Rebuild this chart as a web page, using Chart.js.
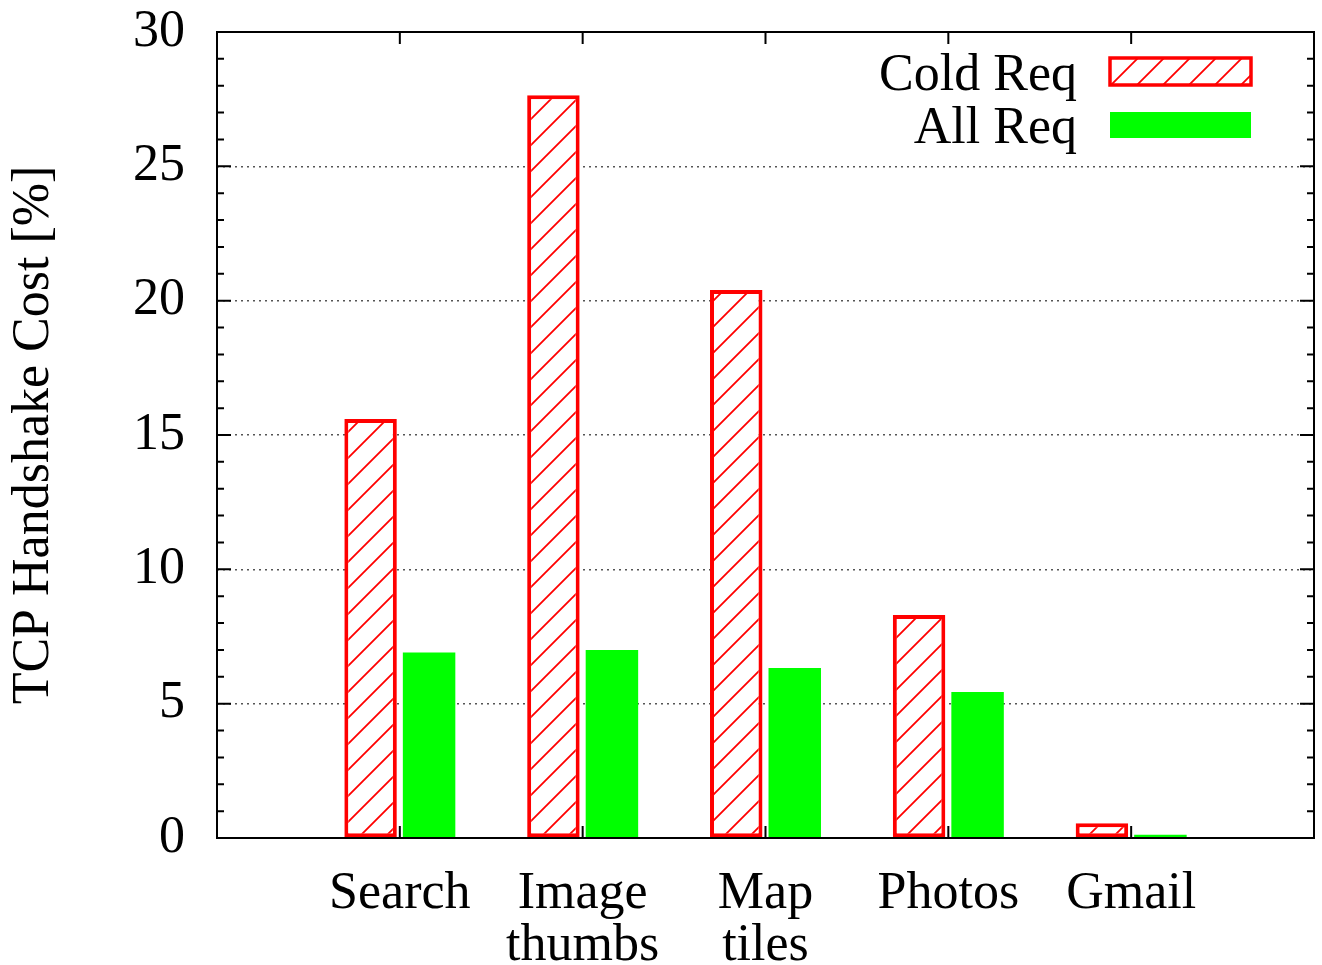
<!DOCTYPE html>
<html>
<head>
<meta charset="utf-8">
<script src="https://cdn.jsdelivr.net/npm/chart.js@4.4.1/dist/chart.umd.min.js"></script>
<style>
  html, body { margin: 0; padding: 0; background: #fff; }
  canvas { display: block; }
</style>
</head>
<body>
<canvas id="chart" width="1322" height="965"></canvas>
<script>
// Data
const categories = ['', 'Search', ['Image', 'thumbs'], ['Map', 'tiles'], 'Photos', 'Gmail', ''];
const coldReq = [null, 15.6, 27.65, 20.4, 8.3, 0.55, null];
const allReq = [null, 6.9, 7.0, 6.33, 5.43, 0.12, null];
const seriesNames = ['Cold Req', 'All Req'];

const FONT = '"Liberation Serif", "Times New Roman", serif';
const RED = '#ff0000';
const GREEN = '#00ff00';

function makeHatch() {
    const s = 26;
    const c = document.createElement('canvas');
    c.width = s;
    c.height = s;
    const g = c.getContext('2d');
    g.fillStyle = '#fff';
    g.fillRect(0, 0, s, s);
    g.strokeStyle = RED;
    g.lineWidth = 1.8;
    g.beginPath();
    g.moveTo(0, s); g.lineTo(s, 0);
    g.moveTo(-s / 2, s / 2); g.lineTo(s / 2, -s / 2);
    g.moveTo(s / 2, s * 1.5); g.lineTo(s * 1.5, s / 2);
    g.stroke();
    return g.createPattern(c, 'repeat');
}
const hatch = makeHatch();

// gnuplot-like frame, inward ticks and legend
const framePlugin = {
    id: 'frame',
    afterDraw(chart) {
        const { ctx, chartArea: a, scales } = chart;
        ctx.save();
        ctx.strokeStyle = '#000';
        ctx.lineWidth = 2;
        ctx.beginPath();
        scales.y.ticks.forEach((t) => {
            const y = scales.y.getPixelForValue(t.value);
            const len = t.value % 5 === 0 ? 14 : 7;
            ctx.moveTo(a.left, y); ctx.lineTo(a.left + len, y);
            ctx.moveTo(a.right, y); ctx.lineTo(a.right - len, y);
        });
        categories.forEach((c, i) => {
            if (c === '') return;
            const x = scales.x.getPixelForValue(i);
            ctx.moveTo(x, a.top); ctx.lineTo(x, a.top + 12);
            ctx.moveTo(x, a.bottom); ctx.lineTo(x, a.bottom - 12);
        });
        ctx.stroke();
        ctx.strokeRect(a.left, a.top, a.right - a.left, a.bottom - a.top);

        // legend
        ctx.font = '52px ' + FONT;
        ctx.fillStyle = '#000';
        ctx.textAlign = 'right';
        ctx.textBaseline = 'alphabetic';
        ctx.fillText(seriesNames[0], 1077, 90);
        ctx.fillText(seriesNames[1], 1077, 143);
        ctx.fillStyle = hatch;
        ctx.fillRect(1110, 58, 141, 27);
        ctx.strokeStyle = RED;
        ctx.lineWidth = 3.5;
        ctx.strokeRect(1110, 58, 141, 27);
        ctx.fillStyle = GREEN;
        ctx.fillRect(1110, 112, 141, 26);
        ctx.restore();
    },
};

new Chart(document.getElementById('chart').getContext('2d'), {
    type: 'bar',
    data: {
        labels: categories,
        datasets: [
            {
                label: seriesNames[0],
                data: coldReq,
                backgroundColor: hatch,
                borderColor: RED,
                borderWidth: 4,
                borderSkipped: false,
                categoryPercentage: 0.64,
                barPercentage: 0.897,
            },
            {
                label: seriesNames[1],
                data: allReq,
                backgroundColor: GREEN,
                borderWidth: 0,
                categoryPercentage: 0.64,
                barPercentage: 0.897,
            },
        ],
    },
    options: {
        responsive: false,
        animation: false,
        layout: { padding: { top: 32, right: 8, left: 0, bottom: 0 } },
        plugins: {
            legend: { display: false },
            tooltip: { enabled: false },
        },
        scales: {
            x: {
                offset: false,
                grid: { display: false, drawTicks: false },
                border: { display: false },
                ticks: {
                    color: '#000',
                    font: { family: FONT, size: 52, lineHeight: 1.0 },
                    padding: 30,
                    maxRotation: 0,
                    autoSkip: false,
                },
                afterFit(scale) {
                    scale.height = 127;
                    scale.paddingLeft = 0;
                    scale.paddingRight = 0;
                },
            },
            y: {
                min: 0,
                max: 30,
                grid: {
                    drawTicks: false,
                    lineWidth: 1.5,
                    color: (c) => {
                        const v = c.tick ? c.tick.value : 0;
                        return v % 5 === 0 && v > 0 && v < 30 ? '#555' : 'rgba(0,0,0,0)';
                    },
                },
                border: { display: false, dash: [2, 4] },
                ticks: {
                    stepSize: 1,
                    autoSkip: false,
                    color: '#000',
                    font: { family: FONT, size: 52 },
                    padding: 32,
                    callback: (v) => (v % 5 === 0 ? String(v) : ''),
                },
                title: {
                    display: true,
                    text: 'TCP Handshake Cost [%]',
                    color: '#000',
                    font: { family: FONT, size: 52 },
                    padding: { top: 3, bottom: 0 },
                },
                afterFit(scale) {
                    scale.width = 217;
                    scale.paddingTop = 0;
                    scale.paddingBottom = 0;
                },
            },
        },
    },
    plugins: [framePlugin],
});
</script>
</body>
</html>
